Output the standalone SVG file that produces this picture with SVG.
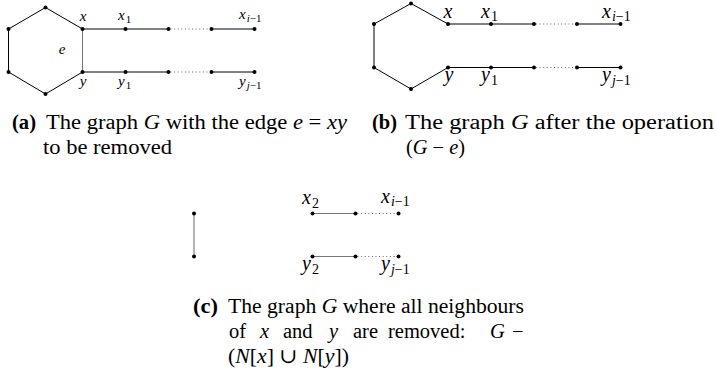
<svg xmlns="http://www.w3.org/2000/svg" width="717" height="379" viewBox="0 0 717 379">
<style>
.e{stroke:#000;stroke-width:1;fill:none}
.g{stroke:#777;stroke-width:1.1;fill:none}
.d{stroke:#555;stroke-width:0.9;stroke-dasharray:1 2.6;fill:none}
.n{fill:#000}
.m{font-family:"Liberation Serif","DejaVu Serif",serif;font-style:italic;fill:#000}
.s{font-size:15px}
.l{font-size:20px}
.c{font-family:"Liberation Serif","DejaVu Serif",serif;font-size:20.5px;fill:#000}
.b{font-weight:bold}
.i{font-style:italic}
</style>
<defs>
<circle id="dot" r="2" class="n"/>
</defs>
<g id="connectors">
<path class="e" d="M82.5,29 L45.5,7.5 L8.5,29 L8.5,72 L45.5,94 L82.5,72"/>
<path class="g" d="M82.5,29 L82.5,72"/>
<path class="e" d="M82.5,29 L168.5,29 M211.5,29 L254.5,29 M82.5,72 L168.5,72 M211.5,72 L254.5,72"/>
<path class="d" d="M170.5,29 L210,29 M170.5,72 L210,72"/>
<path class="e" d="M448,24 L411,3.5 L374,24 L374,67.5 L411,89 L448,67.5"/>
<path class="e" d="M448,24 L534,24 M577,24 L620.5,24 M448,67.5 L534,67.5 M577,67.5 L620.5,67.5"/>
<path class="d" d="M536,24 L575.5,24 M536,67.5 L575.5,67.5"/>
<path class="g" d="M194,213.5 L194,256.5"/>
<path class="g" d="M312.5,213.5 L355.5,213.5 M312.5,256.5 L355.5,256.5"/>
<path class="d" d="M357.5,213.5 L397,213.5 M357.5,256.5 L397,256.5"/>
</g>
<g id="graph-a">
<use href="#dot" x="45.5" y="7.5"/><use href="#dot" x="8.5" y="29"/><use href="#dot" x="8.5" y="72"/><use href="#dot" x="45.5" y="94"/>
<use href="#dot" x="82.5" y="29"/><use href="#dot" x="82.5" y="72"/>
<use href="#dot" x="125.5" y="29"/><use href="#dot" x="168.5" y="29"/><use href="#dot" x="211.5" y="29"/><use href="#dot" x="254.5" y="29"/>
<use href="#dot" x="125.5" y="72"/><use href="#dot" x="168.5" y="72"/><use href="#dot" x="211.5" y="72"/><use href="#dot" x="254.5" y="72"/>
<text class="m s" x="83" y="21" text-anchor="middle">x</text>
<text class="m s" x="118" y="20">x<tspan font-size="11" dx="1" dy="2.5" font-style="normal">1</tspan></text>
<text class="m s" x="239" y="19">x<tspan font-size="11" dx="1" dy="2.5">i</tspan><tspan font-size="11" font-style="normal">−1</tspan></text>
<text class="m s" x="62" y="54" text-anchor="middle">e</text>
<text class="m s" x="83" y="86" text-anchor="middle">y</text>
<text class="m s" x="118" y="86">y<tspan font-size="11" dx="1" dy="2.5" font-style="normal">1</tspan></text>
<text class="m s" x="239" y="86">y<tspan font-size="11" dx="1" dy="2.5">j</tspan><tspan font-size="11" font-style="normal">−1</tspan></text>
</g>
<g id="graph-b">
<use href="#dot" x="411" y="3.5"/><use href="#dot" x="374" y="24"/><use href="#dot" x="374" y="67.5"/><use href="#dot" x="411" y="89"/>
<use href="#dot" x="448" y="24"/><use href="#dot" x="448" y="67.5"/>
<use href="#dot" x="491" y="24"/><use href="#dot" x="534" y="24"/><use href="#dot" x="577" y="24"/><use href="#dot" x="620.5" y="24"/>
<use href="#dot" x="491" y="67.5"/><use href="#dot" x="534" y="67.5"/><use href="#dot" x="577" y="67.5"/><use href="#dot" x="620.5" y="67.5"/>
<text class="m l" x="448" y="17.5" text-anchor="middle">x</text>
<text class="m l" x="481" y="17.5">x<tspan font-size="14" dx="1" dy="3.5" font-style="normal">1</tspan></text>
<text class="m l" x="602" y="17.5">x<tspan font-size="14" dx="1" dy="3.5">i</tspan><tspan font-size="14" font-style="normal">−1</tspan></text>
<text class="m l" x="449" y="81" text-anchor="middle">y</text>
<text class="m l" x="481" y="81">y<tspan font-size="14" dx="1" dy="3.5" font-style="normal">1</tspan></text>
<text class="m l" x="602" y="81">y<tspan font-size="14" dx="1" dy="3.5">j</tspan><tspan font-size="14" font-style="normal">−1</tspan></text>
</g>
<g id="graph-c">
<use href="#dot" x="194" y="213.5"/><use href="#dot" x="194" y="256.5"/>
<use href="#dot" x="312.5" y="213.5"/><use href="#dot" x="355.5" y="213.5"/><use href="#dot" x="398.5" y="213.5"/>
<use href="#dot" x="312.5" y="256.5"/><use href="#dot" x="355.5" y="256.5"/><use href="#dot" x="398.5" y="256.5"/>
<text class="m l" x="302" y="204">x<tspan font-size="14" dx="1" dy="3.5" font-style="normal">2</tspan></text>
<text class="m l" x="381" y="202.5">x<tspan font-size="14" dx="1" dy="3.5">i</tspan><tspan font-size="14" font-style="normal">−1</tspan></text>
<text class="m l" x="302" y="270">y<tspan font-size="14" dx="1" dy="3.5" font-style="normal">2</tspan></text>
<text class="m l" x="381" y="270">y<tspan font-size="14" dx="1" dy="3.5">j</tspan><tspan font-size="14" font-style="normal">−1</tspan></text>
</g>
<g id="captions">
<text class="c b" x="12" y="129" textLength="24" lengthAdjust="spacingAndGlyphs">(a)</text>
<text class="c" x="46" y="129" textLength="301" lengthAdjust="spacingAndGlyphs">The graph <tspan class="i">G</tspan> with the edge <tspan class="i">e</tspan> = <tspan class="i">xy</tspan></text>
<text class="c" x="43" y="153.5" textLength="129" lengthAdjust="spacingAndGlyphs">to be removed</text>
<text class="c b" x="372" y="129" textLength="25" lengthAdjust="spacingAndGlyphs">(b)</text>
<text class="c" x="405" y="129" textLength="309" lengthAdjust="spacingAndGlyphs">The graph <tspan class="i">G</tspan> after the operation</text>
<text class="c" x="406" y="153.5" textLength="59" lengthAdjust="spacingAndGlyphs">(<tspan class="i">G</tspan> − <tspan class="i">e</tspan>)</text>
<text class="c b" x="193" y="313" textLength="25" lengthAdjust="spacingAndGlyphs">(c)</text>
<text class="c" x="228" y="313" textLength="296" lengthAdjust="spacingAndGlyphs">The graph <tspan class="i">G</tspan> where all neighbours</text>
<text class="c" y="338"><tspan x="229">of</tspan><tspan class="i" x="260">x</tspan><tspan x="283">and</tspan><tspan class="i" x="329">y</tspan><tspan x="353">are</tspan><tspan x="388">removed:</tspan><tspan class="i" x="490">G</tspan><tspan x="512">−</tspan></text>
<text class="c" x="228" y="363" textLength="121" lengthAdjust="spacingAndGlyphs">(<tspan class="i">N</tspan>[<tspan class="i">x</tspan>] ∪ <tspan class="i">N</tspan>[<tspan class="i">y</tspan>])</text>
</g>
</svg>
